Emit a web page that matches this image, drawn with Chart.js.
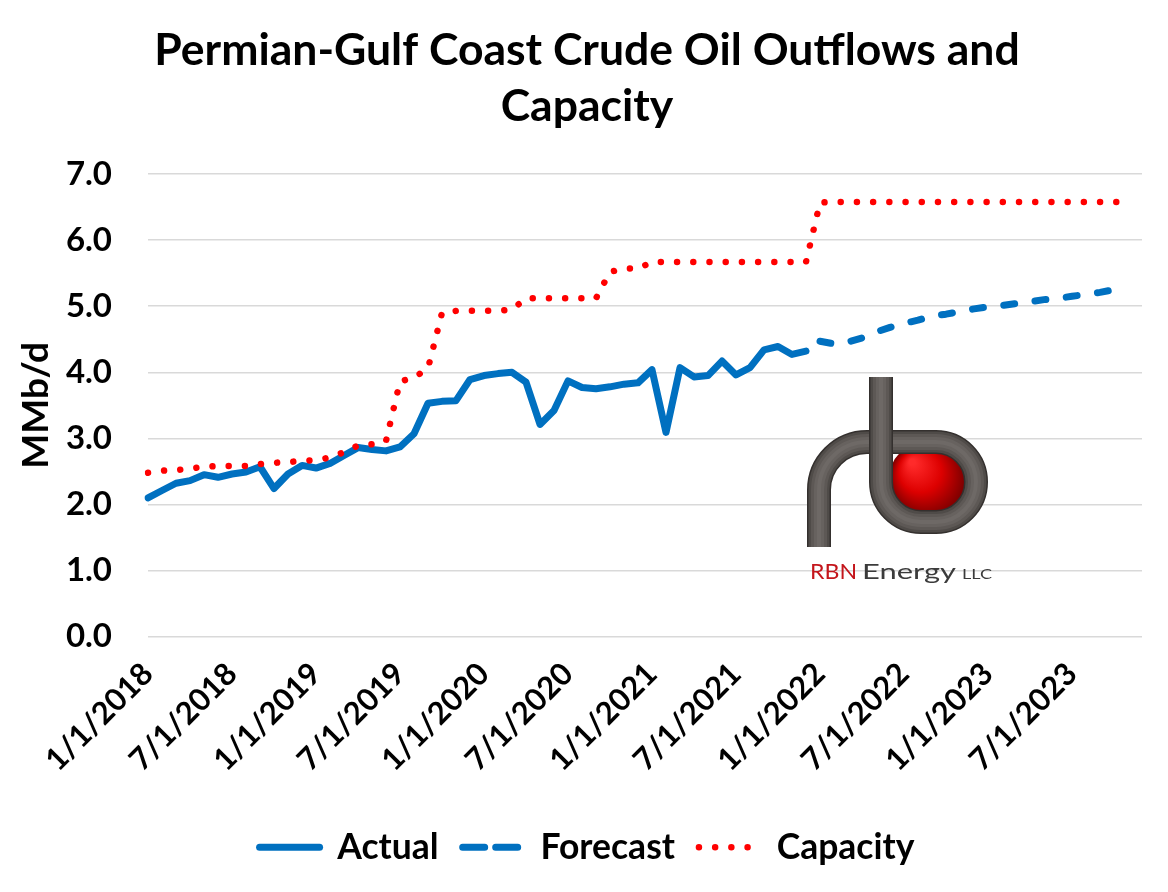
<!DOCTYPE html>
<html>
<head>
<meta charset="utf-8">
<script src="https://cdn.jsdelivr.net/npm/chart.js@4.4.1/dist/chart.umd.min.js"></script>
<style>
  html, body { margin: 0; padding: 0; background: #fff; }
  canvas { display: block; }
</style>
</head>
<body>
<canvas id="grafico" width="1168" height="892"></canvas>
<script>
// monthly values, MMb/d, starting 1/1/2018
const actual = [
  2.10, 2.21, 2.32, 2.36, 2.45, 2.41, 2.46, 2.49, 2.57, 2.24, 2.46, 2.59,
  2.55, 2.62, 2.74, 2.86, 2.83, 2.81, 2.87, 3.07, 3.53, 3.56, 3.57, 3.89,
  3.95, 3.98, 4.00, 3.85, 3.21, 3.42, 3.87, 3.77, 3.75, 3.78, 3.82, 3.84,
  4.04, 3.09, 4.07, 3.93, 3.95, 4.17, 3.96, 4.07, 4.34, 4.39, 4.27, 4.32
];
const forecastStart = 48;
const forecast = [
  4.47, 4.43, 4.46, 4.52, 4.61, 4.68, 4.74, 4.79, 4.85, 4.88, 4.92, 4.96,
  4.99, 5.01, 5.04, 5.07, 5.10, 5.12, 5.15, 5.18, 5.21, 5.25, 5.28
];
const capacity = [
  2.48, 2.51, 2.52, 2.54, 2.57, 2.58, 2.58, 2.58, 2.61, 2.63, 2.64, 2.66,
  2.67, 2.71, 2.79, 2.89, 2.91, 2.96, 3.86, 3.92, 4.06, 4.90, 4.93, 4.93,
  4.93, 4.93, 4.95, 5.12, 5.12, 5.12, 5.12, 5.12, 5.12, 5.52, 5.57, 5.57,
  5.67, 5.67, 5.67, 5.67, 5.67, 5.67, 5.67, 5.67, 5.67, 5.67, 5.67, 5.67,
  6.57, 6.58, 6.58, 6.58, 6.58, 6.58, 6.58, 6.58, 6.58, 6.58, 6.58, 6.58,
  6.58, 6.58, 6.58, 6.58, 6.58, 6.58, 6.58, 6.58, 6.58, 6.58, 6.58
];
const yTicks = [0, 1, 2, 3, 4, 5, 6, 7];

// one category per month, 1/1/2018 .. 12/1/2023
const labels = [];
for (let i = 0; i < 72; i++) {
  labels.push((i % 12 + 1) + '/1/' + (2018 + Math.floor(i / 12)));
}
const forecastData = new Array(forecastStart).fill(null).concat(forecast);

const fam = 'Lato';
const blue = '#0070C0';
const red = '#FF0000';

// RBN Energy logo, drawn on the canvas
function fitText(c, text, x, y, w) {
  const m = c.measureText(text).width;
  c.save();
  c.translate(x, y);
  c.scale(w / m, 1);
  c.fillText(text, 0, 0);
  c.restore();
}
function strokePipe(c, p) {
  c.lineCap = 'butt';
  c.lineJoin = 'round';
  [[24, '#34302e'], [21, '#4f4b48'], [16, '#5d5855'], [10, '#67625f'], [4, '#6e6966']].forEach(function (s) {
    c.lineWidth = s[0];
    c.strokeStyle = s[1];
    c.stroke(p);
  });
}
const logo = {
  id: 'logo',
  afterDatasetsDraw(chart) {
    const c = chart.ctx;
    c.save();
    const g = c.createRadialGradient(912, 462, 3, 930, 482, 44);
    g.addColorStop(0, '#ff2a2a');
    g.addColorStop(0.45, '#dd0000');
    g.addColorStop(1, '#560000');
    c.fillStyle = g;
    c.beginPath();
    c.arc(930, 482, 42, 0, Math.PI * 2);
    c.fill();

    const loop = new Path2D();
    loop.moveTo(819, 547);
    loop.lineTo(819, 490);
    loop.arc(867, 490, 48, Math.PI, 1.5 * Math.PI);
    loop.lineTo(936, 442);
    loop.arc(936, 482, 40, -0.5 * Math.PI, 0.5 * Math.PI);
    loop.lineTo(921, 522);
    strokePipe(c, loop);

    const stem = new Path2D();
    stem.moveTo(881, 377);
    stem.lineTo(881, 482);
    stem.arc(921, 482, 40, Math.PI, 0.5 * Math.PI, true);
    stem.lineTo(930, 522);
    strokePipe(c, stem);

    c.textBaseline = 'alphabetic';
    c.font = '22px Lato';
    c.fillStyle = '#c4161c';
    fitText(c, 'RBN', 810, 579, 47);
    c.fillStyle = '#3b3b3b';
    fitText(c, 'Energy', 862, 579, 94);
    c.font = '14px Lato';
    fitText(c, 'LLC', 962, 579, 30);
    c.restore();
  }
};

function draw() {
  const ctx = document.getElementById('grafico').getContext('2d');
  const tickFont = { family: fam, size: 33, weight: 'bold' };
  new Chart(ctx, {
    type: 'line',
    data: {
      labels: labels,
      datasets: [{
        label: 'Actual',
        data: actual,
        borderColor: blue,
        backgroundColor: blue,
        borderWidth: 7,
        borderCapStyle: 'round',
        borderJoinStyle: 'round',
        pointRadius: 0,
        pointStyle: 'line',
        order: 1
      }, {
        label: 'Forecast',
        data: forecastData,
        borderColor: blue,
        backgroundColor: blue,
        borderWidth: 7,
        borderDash: [11, 20.5],
        legendDash: [22, 11],
        borderCapStyle: 'round',
        borderJoinStyle: 'round',
        pointRadius: 0,
        pointStyle: 'line',
        order: 1
      }, {
        label: 'Capacity',
        data: capacity,
        borderColor: red,
        backgroundColor: red,
        borderWidth: 6.5,
        borderDash: [0.01, 16.2],
        borderCapStyle: 'round',
        borderJoinStyle: 'round',
        pointRadius: 0,
        pointStyle: 'line',
        order: 0
      }]
    },
    options: {
      responsive: false,
      animation: false,
      devicePixelRatio: 1,
      layout: { padding: { left: 10, right: 4, top: 0, bottom: 17 } },
      plugins: {
        title: {
          display: true,
          text: ['Permian-Gulf Coast Crude Oil Outflows and', 'Capacity'],
          color: '#000',
          font: { family: fam, size: 44.5, weight: 'bold', lineHeight: 1.26 },
          padding: { top: 23, bottom: 39 }
        },
        legend: {
          position: 'bottom',
          labels: {
            usePointStyle: true,
            pointStyleWidth: 60,
            color: '#000',
            font: { family: fam, size: 35.5, weight: 'bold' },
            padding: 24,
            sort: (a, b) => a.datasetIndex - b.datasetIndex,
            generateLabels: function (ch) {
              const items = Chart.defaults.plugins.legend.labels.generateLabels(ch);
              items.forEach(function (it) {
                const ds = ch.data.datasets[it.datasetIndex];
                it.lineDash = ds.legendDash || ds.borderDash || [];
                it.lineCap = ds.borderCapStyle;
                it.lineWidth = ds.borderWidth;
                it.strokeStyle = ds.borderColor;
              });
              return items;
            }
          }
        },
        tooltip: { enabled: false }
      },
      scales: {
        x: {
          grid: { display: false },
          border: { display: false },
          afterFit: (s) => { s.height += 16; s.paddingRight = 26; },
          ticks: {
            autoSkip: false,
            minRotation: 45,
            maxRotation: 45,
            padding: 11,
            color: '#000',
            font: { family: fam, size: 31, weight: 'bold' },
            callback: (v, i) => (i % 6 === 0 ? labels[i] : '')
          }
        },
        y: {
          min: yTicks[0],
          max: yTicks[yTicks.length - 1],
          afterBuildTicks: (s) => { s.ticks = yTicks.map(v => ({ value: v })); },
          afterFit: (s) => { s.width = 138; },
          grid: { color: '#d9d9d9', lineWidth: 1.5, drawTicks: false },
          border: { display: false },
          ticks: {
            padding: 36,
            color: '#000',
            font: tickFont,
            callback: (v) => v.toFixed(1)
          },
          title: {
            display: true,
            text: 'MMb/d',
            color: '#000',
            font: { family: fam, size: 37, weight: 'bold' },
            padding: { top: 4, bottom: 0 }
          }
        }
      }
    },
    plugins: [logo]
  });
}

document.fonts.load('bold 34px Lato').then(draw, draw);
</script>
</body>
</html>
